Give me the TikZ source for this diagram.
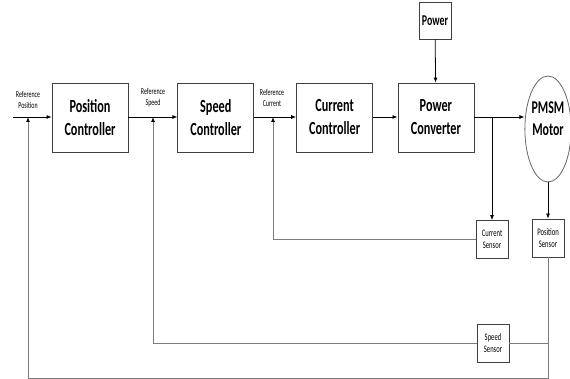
\documentclass[tikz,border=0pt]{standalone}
\usepackage{fontspec}
\setmainfont{Carlito}[FakeStretch=0.66]
\usepackage{tikz}
\usetikzlibrary{shapes.geometric,arrows.meta,positioning}
\definecolor{fbgray}{RGB}{125,125,125}

\begin{document}
\begin{tikzpicture}[x=1pt, y=-1pt,
  ctrl/.style={rectangle, draw=black!75, line width=0.8pt, minimum width=76pt, minimum height=69pt,
    inner sep=0pt, align=center, font=\fontsize{18.5}{23}\selectfont\bfseries},
  sens/.style={rectangle, draw=black!75, line width=0.8pt, minimum width=32pt, minimum height=38pt,
    inner sep=0pt, align=center, font=\fontsize{10}{12}\selectfont},
  lbl/.style={inner sep=0pt, align=center, font=\fontsize{9}{11}\selectfont},
  arr/.style={-{Latex[length=5pt,width=4pt]}, black, line width=0.8pt},
  fb/.style={fbgray, line width=0.9pt},
  fbarr/.style={fb, -{Latex[length=5pt,width=4pt,color=black]}}]
\useasboundingbox (0,0) rectangle (570,379);
\node[ctrl] (pc) at (90,117.5) {Position\\Controller};
\node[ctrl, right=49pt of pc] (sc) {Speed\\Controller};
\node[ctrl, right=42pt of sc] (cc) {Current\\Controller};
\node[ctrl, right=24.5pt of cc] (pwc) {Power\\Converter};
\node[ctrl, minimum width=32pt, minimum height=37pt, font=\fontsize{15}{18}\selectfont\bfseries] (pw) at (435,20.5) {Power};
\node[ellipse, draw=black!60, line width=0.8pt, minimum width=44pt, minimum height=106pt, inner sep=0pt,
  text depth=20pt, align=center, font=\fontsize{18}{22}\selectfont\bfseries] (motor) at (548,129) {PMSM\\Motor};
\node[sens] (cs) at (492,239.5) {Current\\Sensor};
\node[sens] (ps) at (548,238) {Position\\Sensor};
\node[sens] (ss) at (493,343) {Speed\\Sensor};
\coordinate (in) at (13,117);
\coordinate (jp) at (28,117);
\coordinate (js) at (153,117);
\coordinate (jc) at (273,117);
\coordinate (bot) at (28,378);
\coordinate (br) at (cs |- pwc.east);
\node[lbl] (lp) at (28,100) {Reference\\Position};
\node[lbl] (ls) at (153,98) {Reference\\Speed};
\node[lbl] (lc) at (272,98) {Reference\\Current};
\draw[arr] (in) -- (pc.west |- in);
\draw[arr] (pc.east |- in) -- (sc.west |- in);
\draw[arr] (sc.east |- in) -- (cc.west |- in);
\draw[arr] (cc.east |- in) -- (pwc.west |- in);
\draw[arr] (pwc.east |- in) -- (motor.west |- in);
\draw[arr] (pw) -- (pwc);
\draw[arr] (br) -- (cs);
\draw[arr] (motor.south) -- (ps.north);
\draw[fbarr] (cs.west) -| (jc);
\draw[fb] (ss.east) -- (ss.east -| ps.south);
\draw[fbarr] (ss.west) -| (js);
\draw[fbarr] (ps.south) |- (bot) -- (jp);
\end{tikzpicture}
\end{document}
